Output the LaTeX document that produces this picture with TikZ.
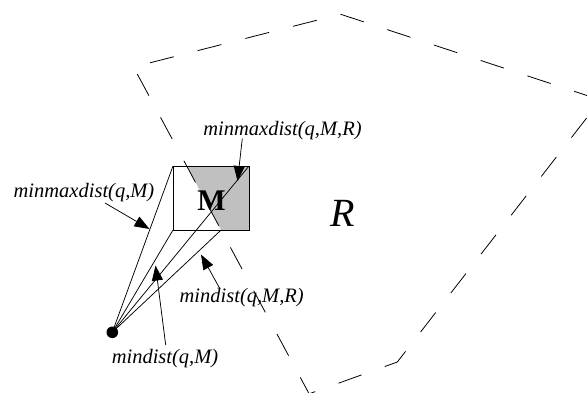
\documentclass[tikz,border=0pt]{standalone}
\usepackage{fontspec}
\setmainfont{Liberation Serif}
\usetikzlibrary{arrows.meta}
\definecolor{mgray}{RGB}{192,192,192}
\begin{document}
\begin{tikzpicture}[x=1pt,y=-1pt,
  ray/.style={line width=0.75pt},
  boxline/.style={line width=1pt},
  region/.style={line width=0.8pt, dash pattern=on 24.5pt off 24.7pt},
  pointer/.style={line width=0.75pt, -{Triangle[length=15pt,width=11pt]}},
  lbl/.style={font=\fontsize{20.5}{24}\selectfont\itshape, inner sep=0pt}]
\useasboundingbox (0,0) rectangle (587,392);
% region R vertices
\coordinate (A) at (133.5,67);
\coordinate (B) at (340.5,14.2);
\coordinate (C) at (600.6,100);
\coordinate (D) at (397.3,362);
\coordinate (E) at (309.1,393.8);
% box M corners
\coordinate (tl) at (173,166);
\coordinate (tr) at (249,166);
\coordinate (br) at (249,230);
\coordinate (bl) at (173,230);
\coordinate (cut) at (intersection of A--E and bl--br);
% gray part of M inside R
\begin{scope}
  \clip (A) -- (B) -- (C) -- (D) -- (E) -- cycle;
  \fill[mgray] (tl) rectangle (br);
\end{scope}
\draw[boxline] (tl) rectangle (br);
\node[font=\fontsize{30}{30}\selectfont\bfseries, inner sep=0pt] (M) at (211.5,200.3) {M};
\node[font=\fontsize{40}{40}\selectfont\itshape, inner sep=0pt] (R) at (342.5,213.8) {R};
% region boundary, edge by edge
\begin{scope}
  \clip (0,0) rectangle (587,392);
  \draw[region, dash phase=32.2pt] (A) -- (B);
  \draw[region, dash phase=0pt] (B) -- (C);
  \draw[region, dash phase=26.2pt] (C) -- (D);
  \draw[region, dash phase=11.2pt] (D) -- (E);
  \draw[region, dash phase=41.2pt] (A) -- (E);
\end{scope}
% query point and rays
\node[circle, fill=black, inner sep=0pt, minimum size=11.6pt] (q) at (112.3,332.3) {};
\draw[ray] (q.center) -- (tl);
\draw[ray] (q.center) -- (bl);
\draw[ray] (q.center) -- (tr);
\draw[ray] (q.center) -- (cut);
% labels
\node[lbl] (l1) at (84,192.5) {minmaxdist(q,M)};
\node[lbl] (l2) at (282.5,130.5) {minmaxdist(q,M,R)};
\node[lbl] (l3) at (241.7,297.5) {mindist(q,M,R)};
\node[lbl] (l4) at (165,359) {mindist(q,M)};
% arrow ends
\coordinate (t1) at (105,203);
\coordinate (h1) at (149.5,229);
\coordinate (t2) at (242.3,138.5);
\coordinate (h2) at (237.5,181);
\coordinate (t3) at (219.5,288);
\coordinate (h3) at (201,254.5);
\coordinate (t4) at (165.7,345);
\coordinate (h4) at (155.5,265.5);
\draw[pointer] (t1) -- (h1);
\draw[pointer] (t2) -- (h2);
\draw[pointer] (t3) -- (h3);
\draw[pointer] (t4) -- (h4);
\end{tikzpicture}
\end{document}
